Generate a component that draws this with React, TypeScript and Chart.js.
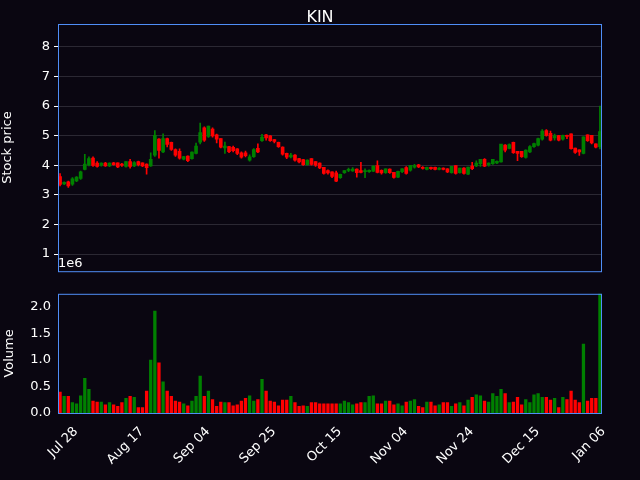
import React, { useEffect, useRef } from 'react';
import { Chart, registerables } from 'chart.js';

Chart.register(...registerables);

// open, close, high, low
const ohlc: number[][] = [
  [3.60,3.35,3.72,3.30],[3.37,3.40,3.44,3.34],[3.42,3.30,3.46,3.25],[3.36,3.52,3.58,3.32],[3.47,3.58,3.62,3.44],
  [3.55,3.76,3.80,3.52],[3.86,4.02,4.37,3.84],[4.02,4.20,4.28,3.98],[4.22,3.99,4.28,3.96],[4.05,3.96,4.12,3.93],
  [4.00,4.05,4.08,3.97],[4.05,3.98,4.10,3.96],[3.98,4.05,4.08,3.95],[4.06,4.02,4.10,4.00],[4.06,3.94,4.08,3.92],
  [4.02,4.00,4.06,3.96],[3.96,4.10,4.12,3.93],[4.10,3.96,4.20,3.90],[3.98,4.07,4.12,3.95],[4.10,4.02,4.14,3.98],
  [4.06,3.98,4.08,3.95],[4.02,3.92,4.05,3.70],[3.98,4.18,4.42,3.96],[4.34,4.99,5.17,4.30],[4.86,4.50,4.90,4.24],
  [4.45,4.88,5.06,4.42],[4.88,4.70,4.92,4.62],[4.75,4.53,4.78,4.50],[4.51,4.34,4.55,4.30],[4.45,4.24,4.55,4.20],
  [4.20,4.27,4.30,4.18],[4.29,4.15,4.32,4.12],[4.22,4.42,4.45,4.20],[4.40,4.63,4.75,4.38],[4.78,5.08,5.42,4.72],
  [5.24,4.85,5.30,4.80],[4.97,5.30,5.32,4.94],[5.20,4.99,5.26,4.95],[5.01,4.88,5.05,4.75],[4.88,4.61,4.90,4.58],
  [4.58,4.63,4.78,4.40],[4.61,4.46,4.64,4.42],[4.58,4.49,4.65,4.45],[4.53,4.40,4.56,4.36],[4.40,4.27,4.45,4.24],
  [4.40,4.32,4.48,4.28],[4.17,4.26,4.35,4.14],[4.29,4.51,4.56,4.26],[4.55,4.45,4.72,4.42],[4.83,4.93,5.04,4.80],
  [5.01,4.92,5.04,4.85],[4.97,4.83,5.00,4.80],[4.85,4.80,4.87,4.75],[4.75,4.63,4.78,4.60],[4.59,4.37,4.62,4.34],
  [4.38,4.27,4.41,4.22],[4.28,4.32,4.40,4.25],[4.32,4.17,4.36,4.14],[4.20,4.11,4.23,4.08],[4.17,4.02,4.20,3.99],
  [4.02,4.15,4.18,4.00],[4.20,4.03,4.22,4.00],[4.10,4.00,4.12,3.96],[4.05,3.91,4.08,3.88],[3.91,3.72,3.93,3.70],
  [3.80,3.74,3.84,3.70],[3.76,3.62,3.78,3.58],[3.72,3.46,3.80,3.44],[3.58,3.67,3.70,3.55],[3.75,3.80,3.82,3.72],
  [3.82,3.84,3.90,3.78],[3.81,3.85,3.92,3.79],[3.85,3.75,3.88,3.60],[3.80,3.76,4.10,3.74],[3.78,3.80,3.88,3.58],
  [3.78,3.81,3.84,3.76],[3.80,3.95,3.98,3.78],[3.97,3.76,4.15,3.74],[3.81,3.74,3.84,3.70],[3.75,3.86,3.88,3.72],
  [3.85,3.75,3.88,3.72],[3.74,3.59,3.76,3.56],[3.60,3.77,3.80,3.58],[3.78,3.86,3.89,3.75],[3.90,3.72,3.95,3.70],
  [3.83,3.98,4.00,3.80],[3.93,3.97,4.03,3.90],[3.99,3.94,4.03,3.92],[3.91,3.89,3.95,3.87],[3.86,3.91,3.94,3.84],
  [3.91,3.88,3.94,3.86],[3.91,3.86,3.94,3.84],[3.86,3.88,3.92,3.84],[3.88,3.86,3.91,3.84],[3.86,3.77,3.89,3.75],
  [3.75,3.94,3.96,3.73],[3.97,3.72,3.99,3.70],[3.75,3.88,3.90,3.73],[3.88,3.72,3.92,3.70],[3.70,3.92,3.94,3.68],
  [3.95,3.88,4.10,3.85],[3.98,4.05,4.15,3.95],[4.05,4.18,4.20,3.96],[4.18,3.97,4.22,3.95],[4.02,4.05,4.08,3.97],
  [4.05,4.18,4.20,4.03],[4.08,4.11,4.15,4.05],[4.11,4.69,4.70,4.10],[4.66,4.51,4.70,4.45],[4.57,4.68,4.72,4.55],
  [4.75,4.42,4.78,4.40],[4.45,4.40,4.47,4.15],[4.45,4.29,4.47,4.26],[4.26,4.49,4.52,4.24],[4.45,4.61,4.66,4.42],
  [4.63,4.71,4.75,4.60],[4.68,4.88,4.92,4.65],[4.88,5.13,5.20,4.85],[5.15,5.01,5.20,4.98],[5.06,4.85,5.15,4.82],
  [4.92,4.97,5.05,4.85],[4.98,4.85,5.01,4.82],[4.88,4.99,5.02,4.85],[4.99,4.97,5.02,4.90],[5.04,4.56,5.06,4.54],
  [4.56,4.43,4.58,4.40],[4.50,4.45,4.52,4.33],[4.40,4.94,4.96,4.38],[5.01,4.83,5.03,4.80],[4.99,4.75,5.01,4.72],
  [4.70,4.61,4.72,4.58],[4.63,5.12,6.00,4.55],
];

// volume in millions
const volumes = [
  0.40,0.32,0.32,0.20,0.18,0.33,0.66,0.45,0.23,0.21,0.21,0.16,0.20,0.16,0.13,0.20,0.28,0.32,0.30,0.11,
  0.11,0.42,1.00,1.92,0.95,0.59,0.42,0.32,0.23,0.21,0.18,0.14,0.23,0.32,0.70,0.32,0.42,0.26,0.13,0.21,
  0.20,0.20,0.14,0.16,0.23,0.28,0.33,0.23,0.26,0.64,0.42,0.23,0.21,0.14,0.25,0.25,0.32,0.20,0.13,0.14,
  0.13,0.20,0.20,0.18,0.18,0.18,
  0.18,0.18,0.18,0.23,0.20,0.16,0.18,0.20,0.20,0.32,0.33,0.18,0.18,0.23,0.23,0.16,0.18,0.14,0.21,0.23,
  0.26,0.13,0.11,0.21,0.21,0.14,0.16,0.20,0.20,0.13,0.18,0.20,0.14,0.25,0.30,0.35,0.33,0.23,0.21,0.37,
  0.32,0.45,0.37,0.20,0.21,0.30,0.16,0.26,0.20,0.35,0.37,0.30,0.30,0.25,0.28,0.11,0.30,0.26,0.42,0.25,
  0.20,1.30,0.23,0.28,0.28,2.40,
];

const tickLabels = ['Jul 28', 'Aug 17', 'Sep 04', 'Sep 25', 'Oct 15', 'Nov 04', 'Nov 24', 'Dec 15', 'Jan 06'];
const tickEvery = 16;
const priceTicks = [1, 2, 3, 4, 5, 6, 7, 8];
const volumeTicks = [0, 0.5, 1, 1.5, 2];

const BG = '#0a0611';
const SPINE = '#4f8ef7';
const UP = '#008000';
const DOWN = '#ff0000';
const FONT = 'DejaVu Sans';

const labels = ohlc.map((_, i) => String(i));
const colors = ohlc.map(c => (c[1] >= c[0] ? UP : DOWN));

const framePlugin = (extra?: (ctx: CanvasRenderingContext2D, chart: Chart) => void) => ({
  id: 'frame',
  beforeDraw: (chart: Chart) => {
    const ctx = chart.ctx;
    ctx.save();
    ctx.fillStyle = BG;
    ctx.fillRect(0, 0, chart.width, chart.height);
    ctx.restore();
  },
  afterDraw: (chart: Chart) => {
    const { ctx, chartArea: a } = chart;
    ctx.save();
    ctx.strokeStyle = SPINE;
    ctx.lineWidth = 1;
    ctx.strokeRect(a.left + 0.5, a.top + 0.5, a.right - a.left - 1, a.bottom - a.top);
    if (extra) extra(ctx, chart);
    ctx.restore();
  },
});

const App: React.FC = () => {
  const priceRef = useRef<HTMLCanvasElement>(null);
  const volRef = useRef<HTMLCanvasElement>(null);

  useEffect(() => {
    document.body.style.margin = '0';
    if (!priceRef.current || !volRef.current) return;

    const price = new Chart(priceRef.current, {
      type: 'bar',
      data: {
        labels,
        datasets: [
          {
            data: ohlc.map(c => [c[3], c[2]]),
            backgroundColor: colors,
            barThickness: 1,
            grouped: false,
          } as any,
          {
            data: ohlc.map(c => [Math.min(c[0], c[1]), Math.max(c[0], c[1]) + 0.02]),
            backgroundColor: colors,
            barThickness: 3,
            grouped: false,
          } as any,
        ],
      },
      options: {
        animation: false,
        responsive: false,
        layout: { padding: { top: 24, right: 38, bottom: 0, left: 0 } },
        plugins: { legend: { display: false }, tooltip: { enabled: false } },
        scales: {
          x: { display: false, offset: true },
          y: {
            min: 0.42,
            max: 8.77,
            afterBuildTicks: (s: any) => { s.ticks = priceTicks.map(v => ({ value: v })); },
            afterFit: (s: any) => { s.width = 58; },
            grid: { color: '#2b2833', drawTicks: true, tickColor: 'white', tickLength: 4 },
            border: { display: false },
            ticks: { color: 'white', font: { family: FONT, size: 13 }, padding: 4 },
            title: { display: true, text: 'Stock price', color: 'white', font: { family: FONT, size: 13 }, padding: { top: 0, bottom: 14 } },
          },
        },
      },
      plugins: [framePlugin((ctx, chart) => {
        ctx.fillStyle = 'white';
        ctx.font = `16px ${FONT}`;
        ctx.textAlign = 'center';
        ctx.textBaseline = 'top';
        ctx.fillText('KIN', 320, 10);
        ctx.font = `13px ${FONT}`;
        ctx.textAlign = 'left';
        ctx.textBaseline = 'bottom';
        ctx.fillText('1e6', chart.chartArea.left, chart.chartArea.bottom - 1);
      })],
    });

    const vol = new Chart(volRef.current, {
      type: 'bar',
      data: {
        labels,
        datasets: [
          {
            data: volumes,
            backgroundColor: colors,
            categoryPercentage: 1,
            barPercentage: 0.8,
          },
        ],
      },
      options: {
        animation: false,
        responsive: false,
        layout: { padding: { top: 0, right: 38, bottom: 0, left: 0 } },
        plugins: { legend: { display: false }, tooltip: { enabled: false } },
        scales: {
          x: {
            offset: true,
            afterFit: (s: any) => { s.height = 67; },
            grid: { display: false, drawTicks: true, tickColor: 'white' },
            border: { display: false },
            ticks: {
              autoSkip: false,
              minRotation: 45,
              maxRotation: 45,
              labelOffset: 16,
              color: 'white',
              font: { family: FONT, size: 13 },
              callback: (_v: any, i: number) => (i % tickEvery === 0 ? tickLabels[i / tickEvery] : ''),
            },
          },
          y: {
            min: 0,
            max: 2.24,
            afterBuildTicks: (s: any) => { s.ticks = volumeTicks.map(v => ({ value: v })); },
            afterFit: (s: any) => { s.width = 58; },
            grid: { display: false, drawTicks: true, tickColor: 'white', tickLength: 4 },
            border: { display: false },
            ticks: {
              color: 'white',
              font: { family: FONT, size: 13 },
              callback: (v: any) => Number(v).toFixed(1),
            },
            title: { display: true, text: 'Volume', color: 'white', font: { family: FONT, size: 13 }, padding: 2 },
          },
        },
      },
      plugins: [framePlugin()],
    });

    return () => {
      price.destroy();
      vol.destroy();
    };
  }, []);

  return (
    <div style={{ position: 'relative', width: 640, height: 480, background: BG }}>
      <canvas ref={priceRef} width={640} height={283} style={{ position: 'absolute', left: 0, top: 0 }} />
      <canvas ref={volRef} width={640} height={197} style={{ position: 'absolute', left: 0, top: 283 }} />
    </div>
  );
};

export default App;
